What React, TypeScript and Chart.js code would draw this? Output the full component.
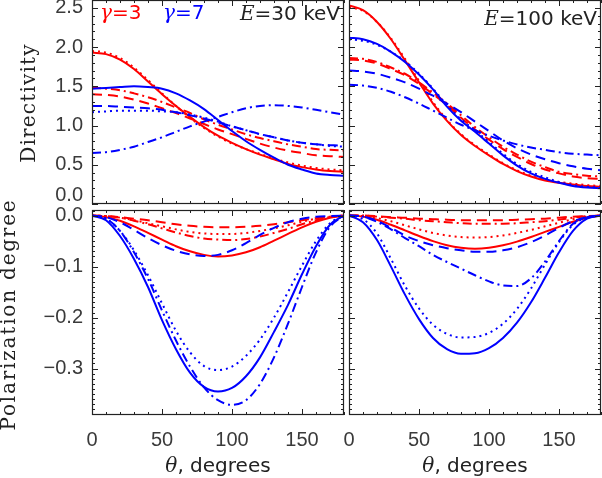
import React, { useEffect, useRef } from 'react';
import { Chart, registerables } from 'chart.js';

Chart.register(...registerables);

const W = 602;
const H = 478;
const RED = '#ff0000';
const BLUE = '#0000ff';
const INK = '#222222';
const LABEL = '#3a3a3a';

// angle grid (degrees)
const theta = [0, 10, 20, 30, 40, 50, 60, 70, 80, 90, 100, 110, 120, 130, 140, 150, 160, 170, 180];

// Directivity, E = 30 keV
const d30G3Solid = [1.93, 1.91, 1.84, 1.72, 1.56, 1.40, 1.25, 1.11, 0.98, 0.87, 0.78, 0.70, 0.63, 0.57, 0.51, 0.47, 0.44, 0.42, 0.41];
const d30G3Dotted = [1.95, 1.93, 1.86, 1.74, 1.58, 1.41, 1.25, 1.10, 0.97, 0.86, 0.77, 0.70, 0.64, 0.58, 0.53, 0.49, 0.46, 0.44, 0.43];
const d30G3Dashed = [1.40, 1.39, 1.37, 1.33, 1.28, 1.22, 1.16, 1.09, 1.02, 0.95, 0.89, 0.83, 0.77, 0.72, 0.68, 0.65, 0.62, 0.61, 0.60];
const d30G3DashDot = [1.48, 1.47, 1.45, 1.41, 1.36, 1.30, 1.23, 1.16, 1.08, 1.01, 0.95, 0.89, 0.84, 0.80, 0.76, 0.73, 0.70, 0.69, 0.68];
const d30G7Solid = [1.47, 1.48, 1.49, 1.50, 1.49, 1.47, 1.41, 1.32, 1.21, 1.07, 0.93, 0.80, 0.69, 0.59, 0.50, 0.44, 0.39, 0.37, 0.36];
const d30G7Dotted = [1.17, 1.18, 1.19, 1.19, 1.19, 1.18, 1.17, 1.14, 1.10, 1.05, 0.99, 0.94, 0.89, 0.85, 0.81, 0.78, 0.76, 0.74, 0.73];
const d30G7Dashed = [1.25, 1.25, 1.24, 1.23, 1.22, 1.20, 1.17, 1.13, 1.09, 1.04, 0.99, 0.94, 0.89, 0.85, 0.81, 0.78, 0.76, 0.75, 0.74];
const d30G7DashDot = [0.65, 0.66, 0.69, 0.73, 0.79, 0.85, 0.92, 0.99, 1.05, 1.11, 1.17, 1.22, 1.25, 1.26, 1.25, 1.23, 1.20, 1.17, 1.14];

// Directivity, E = 100 keV
const d100G3Solid = [2.53, 2.47, 2.32, 2.10, 1.83, 1.55, 1.28, 1.06, 0.88, 0.74, 0.62, 0.51, 0.42, 0.35, 0.30, 0.27, 0.25, 0.23, 0.22];
const d100G3Dotted = [2.51, 2.46, 2.32, 2.11, 1.85, 1.57, 1.30, 1.07, 0.89, 0.75, 0.63, 0.52, 0.43, 0.36, 0.31, 0.28, 0.26, 0.24, 0.23];
const d100G3Dashed = [1.84, 1.83, 1.79, 1.72, 1.64, 1.53, 1.40, 1.26, 1.10, 0.95, 0.82, 0.70, 0.60, 0.51, 0.44, 0.39, 0.35, 0.33, 0.32];
const d100G3DashDot = [1.86, 1.85, 1.81, 1.74, 1.66, 1.55, 1.42, 1.28, 1.13, 0.98, 0.85, 0.73, 0.63, 0.54, 0.47, 0.41, 0.38, 0.36, 0.35];
const d100G7Solid = [2.12, 2.10, 2.04, 1.94, 1.81, 1.65, 1.46, 1.24, 1.06, 0.92, 0.77, 0.62, 0.49, 0.39, 0.32, 0.27, 0.23, 0.21, 0.20];
const d100G7Dotted = [2.10, 2.08, 2.03, 1.94, 1.82, 1.66, 1.47, 1.26, 1.08, 0.94, 0.79, 0.64, 0.51, 0.41, 0.34, 0.28, 0.24, 0.22, 0.21];
const d100G7Dashed = [1.70, 1.69, 1.66, 1.61, 1.55, 1.47, 1.38, 1.28, 1.17, 1.05, 0.93, 0.81, 0.71, 0.63, 0.57, 0.52, 0.48, 0.45, 0.43];
const d100G7DashDot = [1.52, 1.51, 1.48, 1.43, 1.36, 1.28, 1.19, 1.10, 1.01, 0.94, 0.87, 0.81, 0.76, 0.72, 0.69, 0.66, 0.64, 0.63, 0.62];

// Polarization degree, E = 30 keV
const p30G3Solid = [0, -0.003, -0.010, -0.021, -0.034, -0.047, -0.060, -0.070, -0.077, -0.080, -0.078, -0.072, -0.062, -0.049, -0.036, -0.023, -0.012, -0.004, 0];
const p30G3Dotted = [0, -0.001, -0.004, -0.009, -0.015, -0.021, -0.027, -0.032, -0.035, -0.036, -0.036, -0.034, -0.030, -0.025, -0.019, -0.012, -0.006, -0.002, 0];
const p30G3Dashed = [0, -0.001, -0.003, -0.006, -0.009, -0.013, -0.017, -0.020, -0.022, -0.023, -0.023, -0.022, -0.020, -0.017, -0.013, -0.009, -0.005, -0.002, 0];
const p30G3DashDot = [0, -0.001, -0.004, -0.010, -0.017, -0.025, -0.033, -0.040, -0.045, -0.047, -0.048, -0.046, -0.041, -0.034, -0.026, -0.017, -0.009, -0.003, 0];
const p30G7Solid = [0, -0.009, -0.040, -0.085, -0.140, -0.205, -0.262, -0.308, -0.336, -0.345, -0.338, -0.315, -0.278, -0.228, -0.175, -0.115, -0.060, -0.018, 0];
const p30G7Dotted = [0, -0.006, -0.030, -0.068, -0.117, -0.172, -0.226, -0.268, -0.295, -0.303, -0.296, -0.275, -0.243, -0.200, -0.150, -0.098, -0.050, -0.015, 0];
const p30G7Dashed = [0, -0.003, -0.013, -0.028, -0.044, -0.058, -0.069, -0.076, -0.079, -0.077, -0.068, -0.054, -0.038, -0.024, -0.013, -0.006, -0.002, -0.001, 0];
const p30G7DashDot = [0, -0.006, -0.030, -0.072, -0.124, -0.186, -0.245, -0.296, -0.337, -0.362, -0.371, -0.362, -0.330, -0.278, -0.212, -0.140, -0.072, -0.022, 0];

// Polarization degree, E = 100 keV
const p100G3Solid = [0, -0.002, -0.008, -0.018, -0.029, -0.040, -0.050, -0.058, -0.063, -0.065, -0.063, -0.058, -0.051, -0.042, -0.032, -0.022, -0.012, -0.004, 0];
const p100G3Dotted = [0, -0.001, -0.005, -0.011, -0.019, -0.027, -0.034, -0.039, -0.042, -0.043, -0.042, -0.039, -0.034, -0.028, -0.021, -0.014, -0.007, -0.002, 0];
const p100G3Dashed = [0, 0, -0.001, -0.003, -0.004, -0.006, -0.007, -0.008, -0.009, -0.009, -0.009, -0.009, -0.008, -0.007, -0.006, -0.004, -0.002, -0.001, 0];
const p100G3DashDot = [0, 0, -0.002, -0.004, -0.006, -0.009, -0.011, -0.013, -0.015, -0.016, -0.016, -0.016, -0.015, -0.013, -0.011, -0.008, -0.004, -0.001, 0];
const p100G7Solid = [0, -0.013, -0.048, -0.100, -0.155, -0.203, -0.240, -0.262, -0.271, -0.270, -0.260, -0.240, -0.210, -0.170, -0.122, -0.072, -0.030, -0.006, 0];
const p100G7Dotted = [0, -0.007, -0.035, -0.085, -0.138, -0.182, -0.214, -0.232, -0.239, -0.238, -0.230, -0.212, -0.183, -0.143, -0.096, -0.052, -0.018, -0.004, 0];
const p100G7Dashed = [0, -0.002, -0.010, -0.024, -0.039, -0.050, -0.058, -0.064, -0.068, -0.071, -0.071, -0.068, -0.062, -0.052, -0.039, -0.024, -0.011, -0.003, 0];
const p100G7DashDot = [0, -0.002, -0.012, -0.027, -0.044, -0.060, -0.077, -0.091, -0.104, -0.117, -0.129, -0.137, -0.138, -0.123, -0.090, -0.050, -0.016, -0.003, 0];

// axis ranges / ticks
const xRange = [0, 180];
const xMajorStep = 50;
const xMinorStep = 10;
const dirRange = [0, 2.6];
const dirMajorStep = 0.5;
const dirMinorStep = 0.1;
const polRange = [-0.391, 0.011];
const polMajorStep = 0.1;
const polMinorStep = 0.01;

const DASH: Record<string, number[]> = {
  solid: [],
  dotted: [2, 4],
  dashed: [10, 6],
  dashdot: [9, 4, 2, 4],
};

const F_IT = 'italic 20px "DejaVu Serif"';
const F_SANS = '20px "DejaVu Sans"';
const F_TITLE = '20px "DejaVu Serif"';
const TICK_FONT = 'Liberation Sans';

type Part = { t: string; f: string; ls?: number };
type TextItem = {
  parts: Part[];
  color: string;
  xFrom: 'left' | 'right' | 'mid';
  dx: number;
  yFrom: 'top' | 'bottom' | 'mid';
  dy: number;
  align: 'left' | 'right' | 'center';
  rotate?: boolean;
};

type Series = { values: number[]; color: string; style: string };

type Panel = {
  area: { left: number; right: number; top: number; bottom: number };
  showX: boolean;
  showY: boolean;
  yRange: number[];
  yMajor: number;
  yMinor: number;
  yLabel: (v: number) => string | string[];
  series: Series[];
  texts: TextItem[];
};

const fmtDir = (v: number) => (Math.abs(v) < 1e-9 ? ['0.0', ''] : v.toFixed(1));
const fmtPol = (v: number) => {
  if (Math.abs(v) < 1e-9) return '0.0';
  return v < 0 ? '\u2212' + Math.abs(v).toFixed(1) : v.toFixed(1);
};

const thetaTitle: TextItem = {
  parts: [
    { t: '\u03b8', f: F_IT },
    { t: ', degrees', f: F_SANS },
  ],
  color: INK,
  xFrom: 'mid',
  dx: 0,
  yFrom: 'bottom',
  dy: 57,
  align: 'center',
};

const mk = (vals: number[][], colors: string[]): Series[] => {
  const styles = ['solid', 'dotted', 'dashed', 'dashdot'];
  return vals.map((v, i) => ({ values: v, color: colors[i], style: styles[i % 4] }));
};
const C8 = [RED, RED, RED, RED, BLUE, BLUE, BLUE, BLUE];

const panels: Panel[] = [
  {
    area: { left: 92, right: 344, top: 0, bottom: 204 },
    showX: false,
    showY: true,
    yRange: dirRange,
    yMajor: dirMajorStep,
    yMinor: dirMinorStep,
    yLabel: fmtDir,
    series: mk([d30G3Solid, d30G3Dotted, d30G3Dashed, d30G3DashDot, d30G7Solid, d30G7Dotted, d30G7Dashed, d30G7DashDot], C8),
    texts: [
      { parts: [{ t: '\u03b3', f: F_IT }, { t: '=3', f: F_SANS }], color: RED, xFrom: 'left', dx: 8, yFrom: 'top', dy: 19, align: 'left' },
      { parts: [{ t: '\u03b3', f: F_IT }, { t: '=7', f: F_SANS }], color: BLUE, xFrom: 'left', dx: 71, yFrom: 'top', dy: 19, align: 'left' },
      { parts: [{ t: 'E', f: F_IT }, { t: '=30 keV', f: F_SANS }], color: INK, xFrom: 'right', dx: -4, yFrom: 'top', dy: 20, align: 'right' },
      { parts: [{ t: 'Directivity', f: F_TITLE, ls: 1.2 }], color: INK, xFrom: 'left', dx: -57, yFrom: 'mid', dy: 1, align: 'center', rotate: true },
    ],
  },
  {
    area: { left: 349, right: 601, top: 0, bottom: 204 },
    showX: false,
    showY: false,
    yRange: dirRange,
    yMajor: dirMajorStep,
    yMinor: dirMinorStep,
    yLabel: fmtDir,
    series: mk([d100G3Solid, d100G3Dotted, d100G3Dashed, d100G3DashDot, d100G7Solid, d100G7Dotted, d100G7Dashed, d100G7DashDot], C8),
    texts: [
      { parts: [{ t: 'E', f: F_IT }, { t: '=100 keV', f: F_SANS }], color: INK, xFrom: 'right', dx: -4, yFrom: 'top', dy: 25, align: 'right' },
    ],
  },
  {
    area: { left: 92, right: 344, top: 210, bottom: 415 },
    showX: true,
    showY: true,
    yRange: polRange,
    yMajor: polMajorStep,
    yMinor: polMinorStep,
    yLabel: fmtPol,
    series: mk([p30G3Solid, p30G3Dotted, p30G3Dashed, p30G3DashDot, p30G7Solid, p30G7Dotted, p30G7Dashed, p30G7DashDot], C8),
    texts: [
      thetaTitle,
      { parts: [{ t: 'Polarization degree', f: F_TITLE, ls: 1.8 }], color: INK, xFrom: 'left', dx: -77.5, yFrom: 'mid', dy: 2, align: 'center', rotate: true },
    ],
  },
  {
    area: { left: 349, right: 601, top: 210, bottom: 415 },
    showX: true,
    showY: false,
    yRange: polRange,
    yMajor: polMajorStep,
    yMinor: polMinorStep,
    yLabel: fmtPol,
    series: mk([p100G3Solid, p100G3Dotted, p100G3Dashed, p100G3DashDot, p100G7Solid, p100G7Dotted, p100G7Dashed, p100G7DashDot], C8),
    texts: [thetaTitle],
  },
];

function drawParts(ctx: CanvasRenderingContext2D, parts: Part[], x: number, y: number, align: string) {
  const widths = parts.map((p) => {
    ctx.font = p.f;
    (ctx as any).letterSpacing = (p.ls || 0) + 'px';
    return ctx.measureText(p.t).width;
  });
  const total = widths.reduce((a, b) => a + b, 0);
  let cur = align === 'left' ? x : align === 'right' ? x - total : x - total / 2;
  ctx.textAlign = 'left';
  ctx.textBaseline = 'alphabetic';
  parts.forEach((p, i) => {
    ctx.font = p.f;
    (ctx as any).letterSpacing = (p.ls || 0) + 'px';
    ctx.fillText(p.t, cur, y);
    cur += widths[i];
  });
  (ctx as any).letterSpacing = '0px';
}

function makeDecor(panel: Panel) {
  return {
    id: 'frameDecor',
    afterDatasetsDraw(chart: any) {
      const { ctx, chartArea: a, scales } = chart;
      const xs = scales.x;
      const ys = scales.y;
      ctx.save();
      ctx.strokeStyle = INK;
      ctx.lineWidth = 1.2;
      ctx.setLineDash([]);
      ctx.strokeRect(a.left + 0.5, a.top + 0.5, a.right - a.left - 1, a.bottom - a.top - 1);
      const line = (x1: number, y1: number, x2: number, y2: number) => {
        ctx.beginPath();
        ctx.moveTo(x1, y1);
        ctx.lineTo(x2, y2);
        ctx.stroke();
      };
      ctx.lineWidth = 1;
      // x ticks on bottom and top edges (inward)
      const xRatio = Math.round(xMajorStep / xMinorStep);
      const xn0 = Math.ceil(xs.min / xMinorStep - 1e-9);
      const xn1 = Math.floor(xs.max / xMinorStep + 1e-9);
      for (let n = xn0; n <= xn1; n++) {
        const v = n * xMinorStep;
        const len = Math.abs(n) % xRatio === 0 ? 6 : 3;
        const px = Math.round(xs.getPixelForValue(v)) + 0.5;
        line(px, a.bottom, px, a.bottom - len);
        line(px, a.top, px, a.top + len);
      }
      // y ticks on left and right edges (inward)
      const yRatio = Math.round(panel.yMajor / panel.yMinor);
      const yn0 = Math.ceil(ys.min / panel.yMinor - 1e-9);
      const yn1 = Math.floor(ys.max / panel.yMinor + 1e-9);
      for (let n = yn0; n <= yn1; n++) {
        const v = n * panel.yMinor;
        const len = Math.abs(n) % yRatio === 0 ? 6 : 3;
        const py = Math.round(ys.getPixelForValue(v)) + 0.5;
        line(a.left, py, a.left + len, py);
        line(a.right, py, a.right - len, py);
      }
      // texts
      panel.texts.forEach((tx) => {
        const bx = tx.xFrom === 'left' ? a.left : tx.xFrom === 'right' ? a.right : (a.left + a.right) / 2;
        const by = tx.yFrom === 'top' ? a.top : tx.yFrom === 'bottom' ? a.bottom : (a.top + a.bottom) / 2;
        ctx.fillStyle = tx.color;
        if (tx.rotate) {
          ctx.save();
          ctx.translate(bx + tx.dx, by + tx.dy);
          ctx.rotate(-Math.PI / 2);
          drawParts(ctx, tx.parts, 0, 0, 'center');
          ctx.restore();
        } else {
          drawParts(ctx, tx.parts, bx + tx.dx, by + tx.dy, tx.align);
        }
      });
      ctx.restore();
    },
  };
}

function buildChart(canvas: HTMLCanvasElement, panel: Panel) {
  const n = panel.series.length;
  const datasets = panel.series.map((s, i) => ({
    data: theta.map((t, k) => ({ x: t, y: s.values[k] })),
    borderColor: s.color,
    backgroundColor: s.color,
    borderWidth: 2,
    borderDash: DASH[s.style],
    pointRadius: 0,
    cubicInterpolationMode: 'monotone' as const,
    fill: false,
    order: n - i,
  }));
  const ar = panel.area;
  const noPad = (s: any) => {
    s.paddingTop = 0;
    s.paddingBottom = 0;
    s.paddingLeft = 0;
    s.paddingRight = 0;
  };
  return new Chart(canvas, {
    type: 'line',
    data: { datasets },
    options: {
      responsive: false,
      animation: false,
      events: [],
      layout: {
        padding: {
          left: panel.showY ? 0 : ar.left,
          right: W - ar.right,
          top: ar.top,
          bottom: panel.showX ? 0 : H - ar.bottom,
        },
      },
      scales: {
        x: {
          type: 'linear',
          min: xRange[0],
          max: xRange[1],
          display: panel.showX,
          grid: { display: false, drawTicks: false },
          border: { display: false },
          ticks: {
            stepSize: xMajorStep,
            includeBounds: false,
            autoSkip: false,
            maxRotation: 0,
            minRotation: 0,
            padding: 13,
            color: LABEL,
            font: { family: TICK_FONT, size: 20 },
            callback: (v: any) => String(Math.round(Number(v))),
          },
          afterFit: (s: any) => {
            noPad(s);
            if (panel.showX) s.height = H - ar.bottom;
          },
        },
        y: {
          type: 'linear',
          min: panel.yRange[0],
          max: panel.yRange[1],
          display: panel.showY,
          grid: { display: false, drawTicks: false },
          border: { display: false },
          ticks: {
            stepSize: panel.yMajor,
            includeBounds: false,
            autoSkip: false,
            padding: 9,
            color: LABEL,
            font: { family: TICK_FONT, size: 20, lineHeight: 0.9 },
            callback: (v: any) => panel.yLabel(Number(v)),
          },
          afterFit: (s: any) => {
            noPad(s);
            if (panel.showY) s.width = ar.left;
          },
        },
      },
      plugins: {
        legend: { display: false },
        tooltip: { enabled: false },
      },
    },
    plugins: [makeDecor(panel)],
  } as any);
}

function PanelCanvas({ panel }: { panel: Panel }) {
  const ref = useRef<HTMLCanvasElement | null>(null);
  useEffect(() => {
    if (!ref.current) return;
    const chart = buildChart(ref.current, panel);
    return () => chart.destroy();
  }, [panel]);
  return (
    <canvas
      ref={ref}
      width={W}
      height={H}
      style={{ position: 'absolute', left: 0, top: 0, width: W, height: H }}
    />
  );
}

export default function App() {
  return (
    <div style={{ position: 'absolute', left: 0, top: 0, width: W, height: H, background: '#ffffff', overflow: 'hidden' }}>
      {panels.map((p, i) => (
        <PanelCanvas key={i} panel={p} />
      ))}
    </div>
  );
}
